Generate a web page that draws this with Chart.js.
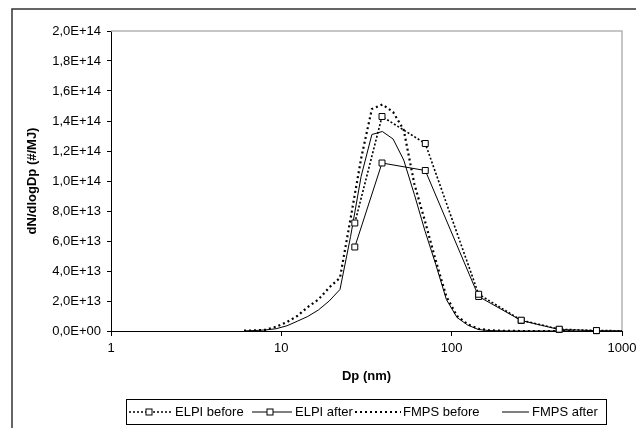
<!DOCTYPE html>
<html>
<head>
<meta charset="utf-8">
<script src="https://cdn.jsdelivr.net/npm/chart.js@4.4.1/dist/chart.umd.min.js"></script>
<style>
  body { margin: 0; background: #fff; }
  #chart { display: block; background: #fff; }
</style>
</head>
<body>
<canvas id="chart" width="636" height="428"></canvas>
<script>
// particle size (nm)
const elpiDp = [27, 39, 70, 144, 256, 428, 708, 1190];
const fmpsDp = [6.04, 6.98, 8.06, 9.31, 10.8, 12.4, 14.3, 16.5, 19.1, 22.1, 25.5, 29.4, 34.0, 39.2,
  45.3, 52.3, 60.4, 69.8, 80.6, 93.1, 107.5, 124.1, 143.3, 165.5, 191.1, 220.7, 254.8, 294.3,
  339.8, 392.4, 453.2, 523.3];

// dN/dlogDp (#/MJ)
const elpiBefore = [7.2e13, 1.43e14, 1.25e14, 2.45e13, 7.2e12, 1.2e12, 3e11, 1e11];
const elpiAfter = [5.6e13, 1.12e14, 1.07e14, 2.3e13, 7.0e12, 1.0e12, 2e11, 1e11];
const fmpsBefore = [2e11, 4e11, 8e11, 2.8e12, 6e12, 1.0e13, 1.6e13, 2.1e13, 2.9e13, 3.55e13, 7.5e13,
  1.15e14, 1.48e14, 1.51e14, 1.46e14, 1.34e14, 9.8e13, 7.3e13, 4.7e13, 2.3e13, 1.0e13, 4.5e12,
  1.5e12, 5e11, 2e11, 1e11, 0, 0, 0, 0, 0, 0];
const fmpsAfter = [1e11, 3e11, 7e11, 1.5e12, 3.5e12, 6.5e12, 9.7e12, 1.4e13, 2.0e13, 2.77e13, 6.3e13,
  1.03e14, 1.31e14, 1.33e14, 1.28e14, 1.14e14, 9.1e13, 6.65e13, 4.45e13, 2.1e13, 9e12, 4e12,
  1e12, 3e11, 1e11, 0, 0, 0, 0, 0, 0, 0];

const seriesNames = ['ELPI before', 'ELPI after', 'FMPS before', 'FMPS after'];
const xTicks = [1, 10, 100, 1000];

const toPoints = (xs, ys) => xs.map((x, i) => ({ x: x, y: ys[i] }));

const styles = [
  { dash: [2, 2], width: 1.6, marker: true },
  { dash: [], width: 1, marker: true },
  { dash: [2, 3], width: 2.2, marker: false },
  { dash: [], width: 1, marker: false }
];

const datasets = [
  toPoints(elpiDp, elpiBefore),
  toPoints(elpiDp, elpiAfter),
  toPoints(fmpsDp, fmpsBefore),
  toPoints(fmpsDp, fmpsAfter)
].map((data, i) => ({
  label: seriesNames[i],
  data: data,
  borderColor: '#000',
  borderWidth: styles[i].width,
  borderDash: styles[i].dash,
  tension: 0,
  pointStyle: 'rect',
  pointRadius: styles[i].marker ? 4.2 : 0,
  pointBorderWidth: 1,
  pointBorderColor: '#000',
  pointBackgroundColor: '#fff',
  clip: { left: 5, top: 5, right: 0, bottom: 5 }
}));

function fmtExp(v) {
  let s = Number(v).toExponential(1).replace('.', ',');
  let [m, e] = s.split('e');
  let sign = e[0];
  let digits = e.slice(1).padStart(2, '0');
  return m + 'E' + sign + digits;
}

const frame = {
  id: 'frame',
  beforeDatasetsDraw(chart) {
    const { ctx, chartArea: a } = chart;
    ctx.save();
    ctx.strokeStyle = '#b4b4b4';
    ctx.lineWidth = 1.5;
    ctx.beginPath();
    ctx.moveTo(a.left, a.top);
    ctx.lineTo(a.right, a.top);
    ctx.lineTo(a.right, a.bottom);
    ctx.stroke();
    ctx.restore();
  },
  afterDraw(chart) {
    const ctx = chart.ctx;
    ctx.save();
    // outer border
    ctx.strokeStyle = '#333';
    ctx.lineWidth = 1.5;
    ctx.beginPath();
    ctx.moveTo(12, 440);
    ctx.lineTo(12, 9);
    ctx.lineTo(640, 9);
    ctx.stroke();

    // legend
    ctx.strokeStyle = '#000';
    ctx.lineWidth = 1;
    ctx.strokeRect(126.5, 399.5, 480, 25);
    const items = [
      { x1: 129, x2: 172, mx: 149, tx: 175 },
      { x1: 252, x2: 292, mx: 270, tx: 295 },
      { x1: 355, x2: 401, mx: null, tx: 403 },
      { x1: 502, x2: 529, mx: null, tx: 532 }
    ];
    const ly = 412;
    ctx.font = "13px 'Liberation Sans', Arial, sans-serif";
    ctx.fillStyle = '#000';
    ctx.textBaseline = 'middle';
    items.forEach((it, i) => {
      const st = styles[i];
      ctx.setLineDash(st.dash);
      ctx.lineWidth = st.width;
      ctx.beginPath();
      ctx.moveTo(it.x1, ly);
      ctx.lineTo(it.x2, ly);
      ctx.stroke();
      ctx.setLineDash([]);
      if (it.mx) {
        ctx.lineWidth = 1;
        ctx.fillStyle = '#fff';
        ctx.fillRect(it.mx - 3, ly - 3, 6, 6);
        ctx.strokeRect(it.mx - 3, ly - 3, 6, 6);
        ctx.fillStyle = '#000';
      }
      ctx.fillText(seriesNames[i], it.tx, ly + 0.5);
    });
    ctx.restore();
  }
};

Chart.defaults.font.family = "'Liberation Sans', Arial, sans-serif";
Chart.defaults.font.size = 13;
Chart.defaults.color = '#000';

new Chart(document.getElementById('chart'), {
  type: 'line',
  data: { datasets: datasets },
  options: {
    responsive: false,
    animation: false,
    devicePixelRatio: 1,
    layout: { padding: { left: 0, top: 31, right: 14, bottom: 0 } },
    plugins: {
      legend: { display: false },
      tooltip: { enabled: false }
    },
    scales: {
      x: {
        type: 'logarithmic',
        min: 1,
        max: 1000,
        afterBuildTicks: scale => {
          scale.ticks = xTicks.map(v => ({ value: v, major: true }));
        },
        afterFit: scale => {
          scale.height = 97;
          scale.paddingLeft = 0;
          scale.paddingRight = 0;
        },
        grid: { drawOnChartArea: false, drawTicks: true, tickLength: 5, color: '#000' },
        border: { display: true, color: '#000', width: 1 },
        ticks: {
          padding: 5,
          maxRotation: 0,
          autoSkip: false,
          callback: v => String(v)
        },
        title: {
          display: true,
          text: 'Dp (nm)',
          font: { weight: 'bold', size: 13 },
          padding: { bottom: 44 }
        }
      },
      y: {
        min: 0,
        max: 2e14,
        afterFit: scale => {
          scale.width = 111;
          scale.paddingTop = 0;
          scale.paddingBottom = 0;
        },
        grid: { drawOnChartArea: false, drawTicks: true, tickLength: 4, color: '#000' },
        border: { display: true, color: '#000', width: 1 },
        ticks: {
          stepSize: 2e13,
          padding: 6,
          callback: v => fmtExp(v)
        },
        title: {
          display: true,
          text: 'dN/dlogDp (#/MJ)',
          font: { weight: 'bold', size: 13 },
          padding: { top: 25 }
        }
      }
    }
  },
  plugins: [frame]
});
</script>
</body>
</html>
